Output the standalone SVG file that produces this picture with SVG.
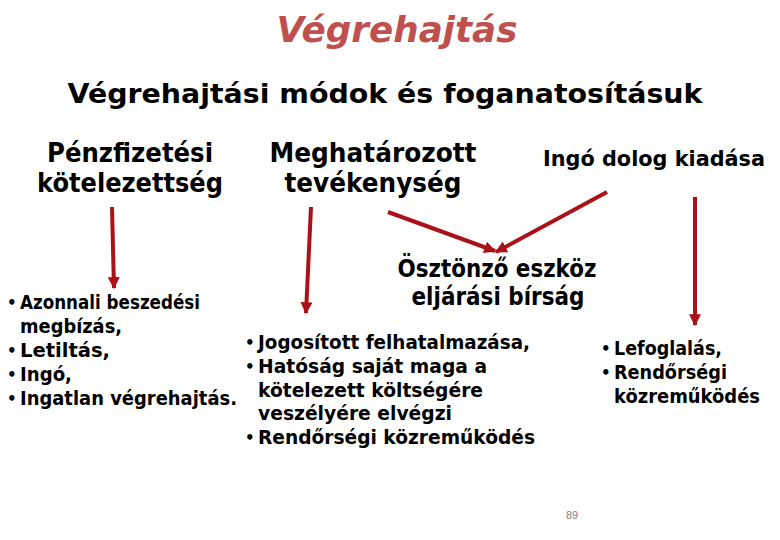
<svg xmlns="http://www.w3.org/2000/svg" width="780" height="540" viewBox="0 0 780 540">
<style>
.h{font-family:"DejaVu Sans","Liberation Sans",sans-serif;font-weight:bold;fill:#000;text-anchor:middle}
.l{font-family:"DejaVu Sans","Liberation Sans",sans-serif;font-weight:bold;fill:#000;font-size:19.5px}
.b{font-family:"DejaVu Sans","Liberation Sans",sans-serif;font-weight:bold;fill:#000;font-size:15px}
.c{stroke:#aa1118;stroke-width:4;fill:none;marker-end:url(#ah)}
</style>
<defs>
<marker id="ah" viewBox="0 0 10 10" refX="9" refY="5" markerWidth="3" markerHeight="3" orient="auto" markerUnits="strokeWidth">
<path d="M0,0 L10,5 L0,10 Z" fill="#aa1118"/>
</marker>
</defs>
<rect width="780" height="540" fill="#fff"/>
<g id="title">
<text x="397" y="42" class="h" style="font-style:italic;font-size:36px;fill:#c0504d" textLength="241" lengthAdjust="spacingAndGlyphs">Végrehajtás</text>
</g>
<g id="subtitle">
<text x="385" y="103" class="h" font-size="27" textLength="635" lengthAdjust="spacingAndGlyphs">Végrehajtási módok és foganatosításuk</text>
</g>
<g id="penz">
<text x="130" y="162" class="h" font-size="26" textLength="166" lengthAdjust="spacingAndGlyphs">Pénzfizetési</text>
<text x="130" y="192" class="h" font-size="26" textLength="186" lengthAdjust="spacingAndGlyphs">kötelezettség</text>
</g>
<g id="meghat">
<text x="373" y="162" class="h" font-size="26" textLength="207" lengthAdjust="spacingAndGlyphs">Meghatározott</text>
<text x="373" y="192" class="h" font-size="26" textLength="177" lengthAdjust="spacingAndGlyphs">tevékenység</text>
</g>
<g id="ingo">
<text x="654" y="166" class="h" font-size="21.5" textLength="222" lengthAdjust="spacingAndGlyphs">Ingó dolog kiadása</text>
</g>
<g id="osztonzo">
<text x="497" y="277" class="h" font-size="25" textLength="199" lengthAdjust="spacingAndGlyphs">Ösztönző eszköz</text>
<text x="498" y="305" class="h" font-size="25" textLength="173" lengthAdjust="spacingAndGlyphs">eljárási bírság</text>
</g>
<g id="lista-bal">
<text class="b" x="7" y="308">•</text>
<text class="l" x="20" y="309" textLength="180" lengthAdjust="spacingAndGlyphs">Azonnali beszedési</text>
<text class="l" x="20" y="333" textLength="102" lengthAdjust="spacingAndGlyphs">megbízás,</text>
<text class="b" x="7" y="356">•</text>
<text class="l" x="20" y="357" textLength="90" lengthAdjust="spacingAndGlyphs">Letiltás,</text>
<text class="b" x="7" y="380">•</text>
<text class="l" x="20" y="381" textLength="52" lengthAdjust="spacingAndGlyphs">Ingó,</text>
<text class="b" x="7" y="404">•</text>
<text class="l" x="20" y="405" textLength="217" lengthAdjust="spacingAndGlyphs">Ingatlan végrehajtás.</text>
</g>
<g id="lista-kozep">
<text class="b" x="245" y="348">•</text>
<text class="l" x="258" y="349" textLength="272" lengthAdjust="spacingAndGlyphs">Jogosított felhatalmazása,</text>
<text class="b" x="245" y="372">•</text>
<text class="l" x="258" y="373" textLength="229" lengthAdjust="spacingAndGlyphs">Hatóság saját maga a</text>
<text class="l" x="258" y="397" textLength="225" lengthAdjust="spacingAndGlyphs">kötelezett költségére</text>
<text class="l" x="258" y="420" textLength="194" lengthAdjust="spacingAndGlyphs">veszélyére elvégzi</text>
<text class="b" x="245" y="443">•</text>
<text class="l" x="258" y="444" textLength="277" lengthAdjust="spacingAndGlyphs">Rendőrségi közreműködés</text>
</g>
<g id="lista-jobb">
<text class="b" x="601" y="354">•</text>
<text class="l" x="614" y="355" textLength="108" lengthAdjust="spacingAndGlyphs">Lefoglalás,</text>
<text class="b" x="601" y="378">•</text>
<text class="l" x="614" y="379" textLength="113" lengthAdjust="spacingAndGlyphs">Rendőrségi</text>
<text class="l" x="614" y="403" textLength="146" lengthAdjust="spacingAndGlyphs">közreműködés</text>
</g>
<g id="connectors">
<line class="c" x1="112" y1="207" x2="114" y2="288"/>
<line class="c" x1="311" y1="207" x2="306" y2="313"/>
<line class="c" x1="388" y1="212" x2="495" y2="251"/>
<line class="c" x1="607" y1="192" x2="496" y2="252"/>
<line class="c" x1="695" y1="197" x2="695" y2="325"/>
</g>
<g id="page">
<text x="572" y="519" font-family="Liberation Sans, sans-serif" font-size="11" fill="#808080" text-anchor="middle">89</text>
</g>
</svg>
